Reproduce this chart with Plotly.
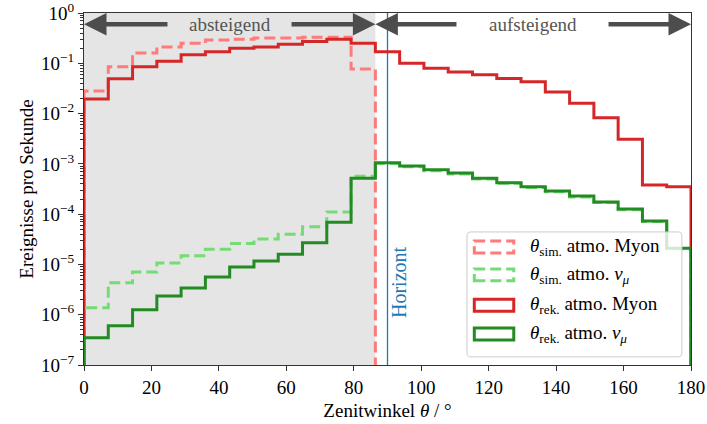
import numpy as np
import plotly.graph_objects as go

# ---------------- data ----------------
bin_edges = list(np.linspace(0, 180, 26))          # 25 bins of 7.2 deg
sim_edges = bin_edges[:13]                          # simulated muons only down-going (0..86.4)

sim_myon = [0.028, 0.085, 0.16, 0.21, 0.25, 0.29, 0.30, 0.32, 0.32, 0.33, 0.33, 0.077]
sim_numu = [1.37e-6, 4.3e-6, 7.1e-6, 1.07e-5, 1.48e-5, 2.0e-5, 2.6e-5, 3.2e-5, 4.0e-5,
            5.6e-5, 1.1e-4, 5.7e-4, 1.02e-3, 8.8e-4, 7.3e-4, 6.3e-4, 5.0e-4, 4.1e-4,
            3.4e-4, 2.8e-4, 2.2e-4, 1.7e-4, 1.22e-4, 7.1e-5, 2.05e-5]
rek_myon = [0.0195, 0.049, 0.085, 0.11, 0.147, 0.17, 0.20, 0.21, 0.24, 0.27, 0.30, 0.25,
            0.17, 0.10, 0.08, 0.067, 0.059, 0.05, 0.043, 0.027, 0.016, 0.0083, 0.0031,
            3.8e-4, 3.5e-4]
rek_numu = [3.5e-7, 6.0e-7, 1.25e-6, 2.35e-6, 3.4e-6, 5.6e-6, 8.9e-6, 1.17e-5, 1.6e-5,
            2.7e-5, 6.9e-5, 5.2e-4, 1.05e-3, 9.1e-4, 7.6e-4, 6.6e-4, 5.2e-4, 4.2e-4,
            3.5e-4, 2.9e-4, 2.3e-4, 1.75e-4, 1.26e-4, 7.3e-5, 2.1e-5]

labels = ["<i>θ</i><sub>sim.</sub> atmo. Myon",
          "<i>θ</i><sub>sim.</sub> atmo. <i>ν</i><sub><i>μ</i></sub>",
          "<i>θ</i><sub>rek.</sub> atmo. Myon",
          "<i>θ</i><sub>rek.</sub> atmo. <i>ν</i><sub><i>μ</i></sub>"]
colors = ["#ff7a7a", "#74dc74", "#d62728", "#238b23"]
dashes = ["11px,5px", "11px,5px", "solid", "solid"]

down_range = [0, 86.4]
horizon = 90
y_exponents = list(range(-7, 1))
x_ticks = list(range(0, 181, 20))
BASE = 1e-9

FONT = "Liberation Serif"
FS = 19


def step_xy(edges, vals):
    x = [edges[0]] + list(edges[:-1]) + [edges[-1], edges[-1]]
    y = [BASE] + list(vals) + [vals[-1], BASE]
    return x, y


fig = go.Figure()
series = [(sim_edges, sim_myon), (bin_edges, sim_numu), (bin_edges, rek_myon), (bin_edges, rek_numu)]
for (e, v), lab, c, d in zip(series, labels, colors, dashes):
    x, y = step_xy(e, v)
    fig.add_trace(go.Scatter(x=x, y=y, mode="lines", line=dict(color=c, width=3, dash=d, shape="hv"),
                             name=lab, showlegend=False, hoverinfo="skip"))

# shaded down-going region and horizon line
fig.add_shape(type="rect", xref="x", yref="paper", x0=down_range[0], x1=down_range[1], y0=0, y1=1,
              fillcolor="#e5e5e5", line_width=0, layer="below")
fig.add_shape(type="line", xref="x", yref="paper", x0=horizon, x1=horizon, y0=0, y1=1,
              line=dict(color="#1f77b4", width=1.3), layer="below")

# arrows and labels
arrow_y = np.log10(0.6)
gray = "#555555"
for txt, xc, (a0, t0), (a1, t1) in [("absteigend", 43.2, (25.2, 0), (61.1, 86.4)),
                                      ("aufsteigend", 133.2, (110.9, 86.4), (155.1, 180))]:
    fig.add_annotation(x=xc, y=arrow_y, xref="x", yref="y", text=txt, showarrow=False,
                       font=dict(family=FONT, size=FS, color=gray))
    for s, t in [(a0, t0), (a1, t1)]:
        fig.add_annotation(x=t, y=arrow_y, ax=s, ay=arrow_y, xref="x", yref="y", axref="x", ayref="y",
                           text="", showarrow=True, arrowhead=2, arrowsize=1.0, arrowwidth=4.5,
                           arrowcolor="#4d4d4d", standoff=0)

fig.add_annotation(x=93.4, y=-5.35, xref="x", yref="y", text="Horizont", showarrow=False,
                   textangle=-90, font=dict(family=FONT, size=20, color="#1f77b4"))

# manual legend (matplotlib-like rectangle handles)
x0, x1, y0, y1 = 0.631, 0.985, 0.023, 0.378
rx, ry = 0.0066, 0.0114
path = (f"M {x0+rx},{y0} L {x1-rx},{y0} Q {x1},{y0} {x1},{y0+ry} L {x1},{y1-ry} Q {x1},{y1} {x1-rx},{y1} "
        f"L {x0+rx},{y1} Q {x0},{y1} {x0},{y1-ry} L {x0},{y0+ry} Q {x0},{y0} {x0+rx},{y0} Z")
fig.add_shape(type="path", xref="paper", yref="paper", path=path,
              fillcolor="rgba(255,255,255,0.8)", line=dict(color="#cccccc", width=1), layer="above")
row_y = [0.335, 0.256, 0.170, 0.088]
for ry_, lab, c, d in zip(row_y, labels, colors, dashes):
    fig.add_shape(type="rect", xref="paper", yref="paper", x0=0.643, x1=0.708,
                  y0=ry_ - 0.017, y1=ry_ + 0.017, line=dict(color=c, width=3, dash=d),
                  fillcolor="rgba(0,0,0,0)", layer="above")
    fig.add_annotation(x=0.731, y=ry_, xref="paper", yref="paper", text=lab, showarrow=False,
                       xanchor="left", yanchor="middle", font=dict(family=FONT, size=FS, color="black"))

minor_vals = [k * 10.0 ** e for e in range(-7, 0) for k in range(2, 10)]

fig.update_layout(
    width=707, height=424, margin=dict(l=84, r=16, t=13, b=59, autoexpand=False),
    paper_bgcolor="white", plot_bgcolor="white",
    font=dict(family=FONT, size=FS, color="black"),
    xaxis=dict(range=[0, 180], tickvals=x_ticks, ticks="outside", ticklen=5, tickwidth=1.2,
               tickcolor="#333", showline=True, linecolor="#333", linewidth=1.3, mirror=True,
               showgrid=False, zeroline=False, automargin=False, ticklabeloverflow="allow",
               title=dict(text="Zenitwinkel <i>θ</i> / °", font=dict(family=FONT, size=FS), standoff=6),
               tickfont=dict(family=FONT, size=FS)),
    yaxis=dict(type="log", range=[-7, 0], tickvals=[10.0 ** e for e in y_exponents],
               ticktext=[f"10<sup>{'−' if e < 0 else ''}{abs(e)}</sup>" for e in y_exponents],
               ticks="outside", ticklen=5, tickwidth=1.2, tickcolor="#333", ticklabeloverflow="allow",
               minor=dict(tickvals=minor_vals, ticks="outside", ticklen=2.5, tickwidth=0.8, tickcolor="#333",
                          showgrid=False),
               showline=True, linecolor="#333", linewidth=1.3, mirror=True, showgrid=False, zeroline=False,
               automargin=False,
               title=dict(text="Ereignisse pro Sekunde", font=dict(family=FONT, size=FS), standoff=2),
               tickfont=dict(family=FONT, size=FS)),
    showlegend=False,
)

fig.write_html("out.html")
